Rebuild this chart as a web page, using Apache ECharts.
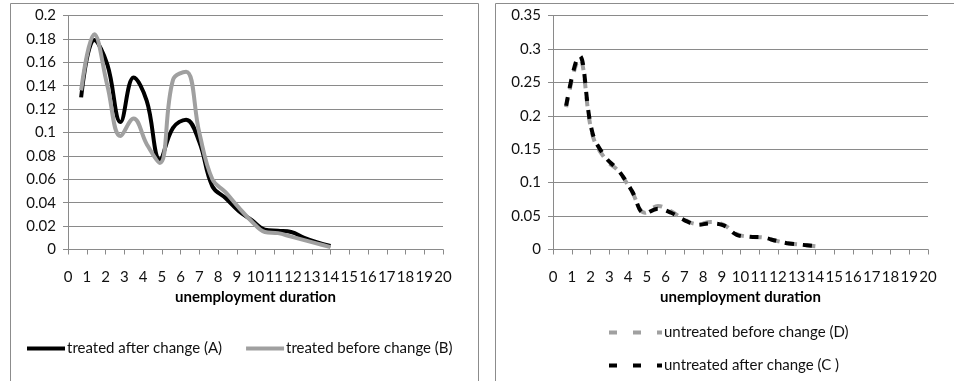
<!DOCTYPE html>
<html>
<head>
<meta charset="utf-8">
<script src="https://cdn.jsdelivr.net/npm/echarts@6/dist/echarts.min.js"></script>
<style>
html,body{margin:0;padding:0;background:#fff;}
#chart{width:954px;height:381px;}
</style>
</head>
<body>
<div id="chart"></div>
<script>
// unemployment duration (x values of the points)
const duration = [0.7, 1.4, 2.1, 2.8, 3.5, 4.2, 4.9, 5.6, 6.3, 7.0, 7.7, 8.4, 9.1, 9.8, 10.5, 11.2, 11.9, 12.6, 13.3, 14.0];
// left chart
const treatedAfterA  = [0.130, 0.179, 0.158, 0.109, 0.147, 0.127, 0.077, 0.104, 0.111, 0.092, 0.054, 0.044, 0.033, 0.025, 0.017, 0.016, 0.015, 0.010, 0.006, 0.003];
const treatedBeforeB = [0.136, 0.184, 0.140, 0.097, 0.112, 0.090, 0.074, 0.145, 0.152, 0.100, 0.060, 0.049, 0.036, 0.024, 0.015, 0.014, 0.011, 0.008, 0.005, 0.002];
// right chart
const untreatedBeforeD = [0.213, 0.285, 0.172, 0.135, 0.117, 0.087, 0.055, 0.065, 0.057, 0.045, 0.038, 0.041, 0.037, 0.023, 0.019, 0.018, 0.013, 0.009, 0.007, 0.005];
const untreatedAfterC  = [0.215, 0.290, 0.175, 0.138, 0.118, 0.088, 0.054, 0.061, 0.055, 0.044, 0.037, 0.039, 0.036, 0.022, 0.019, 0.018, 0.013, 0.009, 0.007, 0.005];

const nameA = 'treated after change (A)';
const nameB = 'treated before change (B)';
const nameD = 'untreated before change (D)';
const nameC = 'untreated after change (C )';
const xTitle = 'unemployment duration';

const FONT = 'Lato';
const GRID_COLOR = '#8a8a8a';
const pairs = (xs, ys) => xs.map((x, i) => [x, ys[i]]);

function xAxisCfg(gridIndex) {
  return {
    type: 'value', gridIndex: gridIndex, min: 0, max: 20, interval: 1,
    name: xTitle, nameLocation: 'middle', nameGap: 40,
    nameTextStyle: { fontFamily: FONT, fontSize: 15, fontWeight: 'bold', color: '#000' },
    axisLine: { show: true, onZero: false, lineStyle: { color: GRID_COLOR, width: 1 } },
    axisTick: { show: true, inside: false, length: 5, lineStyle: { color: GRID_COLOR } },
    axisLabel: { fontFamily: FONT, fontSize: 15, color: '#111', margin: 20, hideOverlap: false },
    splitLine: { show: false }
  };
}
function yAxisCfg(gridIndex, max, interval) {
  return {
    type: 'value', gridIndex: gridIndex, min: 0, max: max, interval: interval,
    axisLine: { show: true, lineStyle: { color: GRID_COLOR, width: 1 } },
    axisTick: { show: true, inside: false, length: 5, lineStyle: { color: GRID_COLOR } },
    axisLabel: { fontFamily: FONT, fontSize: 15, color: '#111', margin: 12 },
    splitLine: { show: true, lineStyle: { color: GRID_COLOR, width: 1 } }
  };
}
function legendCfg(left, top, width, items, gap) {
  return {
    orient: 'horizontal', left: left, top: top, itemWidth: width, itemHeight: 14, itemGap: gap,
    padding: 0,
    textStyle: { fontFamily: FONT, fontSize: 15, color: '#111', padding: [0, 0, 0, -3] },
    itemStyle: { opacity: 0 },
    data: items
  };
}

const chart = echarts.init(document.getElementById('chart'), null, { renderer: 'canvas' });
chart.setOption({
  animation: false,
  backgroundColor: '#fff',
  grid: [
    { left: 68, top: 15.5, width: 375, height: 234, containLabel: false },
    { left: 553, top: 15.5, width: 375, height: 234, containLabel: false }
  ],
  xAxis: [xAxisCfg(0), xAxisCfg(1)],
  yAxis: [yAxisCfg(0, 0.2, 0.02), yAxisCfg(1, 0.35, 0.05)],
  legend: [
    legendCfg(25, 341, 38, [
      { name: nameA, lineStyle: { width: 4 } },
      { name: nameB, lineStyle: { width: 4 } }
    ], 22),
    legendCfg(607, 325, 53, [{ name: nameD, lineStyle: { type: [8, 16], width: 4 } }], 10),
    legendCfg(607, 358, 53, [{ name: nameC, lineStyle: { type: [8, 16], width: 4 } }], 10)
  ],
  graphic: [
    { type: 'rect', shape: { x: 10.5, y: 3.5, width: 468, height: 420 }, style: { fill: 'none', stroke: '#8c8c8c', lineWidth: 1 }, silent: true },
    { type: 'rect', shape: { x: 495.5, y: 3.5, width: 520, height: 420 }, style: { fill: 'none', stroke: '#8c8c8c', lineWidth: 1 }, silent: true }
  ],
  series: [
    { name: nameA, type: 'line', xAxisIndex: 0, yAxisIndex: 0, data: pairs(duration, treatedAfterA),
      smooth: 0.4, symbol: 'none', lineStyle: { color: '#000', width: 4 }, itemStyle: { color: '#000' } },
    { name: nameB, type: 'line', xAxisIndex: 0, yAxisIndex: 0, data: pairs(duration, treatedBeforeB),
      smooth: 0.4, symbol: 'none', lineStyle: { color: '#a0a0a0', width: 4 }, itemStyle: { color: '#a0a0a0' } },
    { name: nameD, type: 'line', xAxisIndex: 1, yAxisIndex: 1, data: pairs(duration, untreatedBeforeD),
      smooth: 0.4, symbol: 'none', lineStyle: { color: '#a0a0a0', width: 4, type: [9, 9] }, itemStyle: { color: '#a0a0a0' } },
    { name: nameC, type: 'line', xAxisIndex: 1, yAxisIndex: 1, data: pairs(duration, untreatedAfterC),
      smooth: 0.4, symbol: 'none', lineStyle: { color: '#000', width: 4, type: [9, 9] }, itemStyle: { color: '#000' } }
  ]
});
</script>
</body>
</html>
